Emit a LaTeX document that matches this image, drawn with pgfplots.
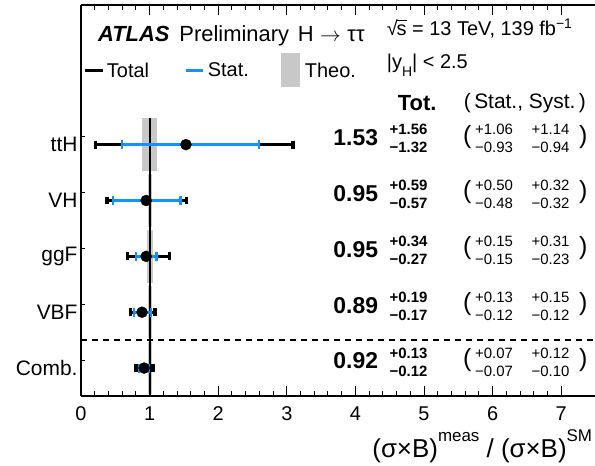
\documentclass[border=0pt]{standalone}
\usepackage{fontspec}
\setmainfont{Liberation Sans}
\usepackage{pgfplots}
\pgfplotsset{compat=1.18}
\definecolor{statblue}{RGB}{20,145,255}
\definecolor{theogray}{RGB}{200,200,200}
\newcommand\fs[1]{\fontsize{#1}{#1}\selectfont}
\newcommand\supt[1]{\raise16bp\hbox{\fs{17}#1}}
\tikzset{lbl/.style={inner sep=0pt, outer sep=0pt}}
% one row of numbers: y, value, tot+, tot-, stat+, stat-, syst+, syst-
\newcommand\rowtext[8]{%
  \node[lbl, anchor=east, font=\fs{23}\bfseries, yshift=7bp] at (axis cs:4.33,#1) {#2};
  \node[lbl, anchor=west, font=\fs{15}\bfseries, yshift=15bp] at (axis cs:4.50,#1) {+#3};
  \node[lbl, anchor=west, font=\fs{15}\bfseries, yshift=-3bp] at (axis cs:4.50,#1) {−#4};
  \node[lbl, font=\fs{25}, yshift=8bp] at (axis cs:5.63,#1) {(};
  \node[lbl, anchor=west, font=\fs{15}, yshift=15bp] at (axis cs:5.745,#1) {+#5};
  \node[lbl, anchor=west, font=\fs{15}, yshift=-3bp] at (axis cs:5.745,#1) {−#6};
  \node[lbl, anchor=west, font=\fs{15}, yshift=15bp] at (axis cs:6.57,#1) {+#7};
  \node[lbl, anchor=west, font=\fs{15}, yshift=-3bp] at (axis cs:6.57,#1) {−#8};
  \node[lbl, font=\fs{25}, yshift=8bp] at (axis cs:7.32,#1) {)};
  \draw[black, line width=1bp, yshift=8bp] (axis cs:0,#1) -- ++(4bp,0bp);
}
\begin{document}
\begin{tikzpicture}
\begin{axis}[
  name=ax,
  scale only axis,
  width=514.5bp, height=391bp,
  xmin=0, xmax=7.5, ymin=0.5, ymax=7.5,
  axis x line*=box, axis y line*=left,
  axis line style={line width=1.3bp},
  clip=false,
  xtick={0,...,7}, minor x tick num=4,
  ytick={1,...,5}, yticklabels={Comb.,VBF,ggF,VH,ttH},
  y tick style={draw=none},
  tick align=inside,
  major tick length=10bp, minor tick length=5bp,
  every tick/.style={black, line width=1bp},
  /pgf/number format/assume math mode=true,
  xticklabel style={font=\fs{20}, yshift=-7bp},
  yticklabel style={font=\fs{21}},
]
% theory bands
\addplot[fill=theogray, draw=none] coordinates {(0.89,4.53) (1.11,4.53) (1.11,5.47) (0.89,5.47)} -- cycle;
\addplot[fill=theogray, draw=none] coordinates {(0.97,3.53) (1.03,3.53) (1.03,4.47) (0.97,4.47)} -- cycle;
\addplot[fill=theogray, draw=none] coordinates {(0.955,2.53) (1.05,2.53) (1.05,3.47) (0.955,3.47)} -- cycle;
\addplot[fill=theogray, draw=none] coordinates {(0.97,1.53) (1.03,1.53) (1.03,2.47) (0.97,2.47)} -- cycle;
\addplot[fill=theogray, draw=none] coordinates {(0.97,0.53) (1.03,0.53) (1.03,1.47) (0.97,1.47)} -- cycle;
% SM line
\addplot[black, line width=2bp] coordinates {(1,0.5) (1,5.47)};
% total
\addplot[only marks, mark=none,
  error bars/.cd, x dir=both, x explicit, error mark=none,
  error bar style={line width=3bp, black}]
coordinates {
  (1.53,5) += (1.56,0) -= (1.32,0)
  (0.95,4) += (0.59,0) -= (0.57,0)
  (0.95,3) += (0.34,0) -= (0.27,0)
  (0.89,2) += (0.19,0) -= (0.17,0)
  (0.92,1) += (0.13,0) -= (0.12,0)
};
% total: end caps
\addplot[only marks, mark=|, mark size=3.9bp, mark options={black, line width=3.3bp}] coordinates {
  (0.21,5) (3.09,5) (0.38,4) (1.54,4) (0.68,3) (1.29,3) (0.72,2) (1.08,2) (0.80,1) (1.05,1)
};
% stat
\addplot[only marks, mark=none,
  error bars/.cd, x dir=both, x explicit, error mark=none,
  error bar style={line width=3bp, statblue}]
coordinates {
  (1.53,5) += (1.06,0) -= (0.93,0)
  (0.95,4) += (0.50,0) -= (0.48,0)
  (0.95,3) += (0.15,0) -= (0.15,0)
  (0.89,2) += (0.13,0) -= (0.12,0)
  (0.92,1) += (0.07,0) -= (0.07,0)
};
% stat: end caps
\addplot[only marks, mark=|, mark size=4.5bp, mark options={statblue, line width=2.3bp}] coordinates {
  (0.60,5) (2.59,5) (0.47,4) (1.45,4) (0.80,3) (1.10,3) (0.77,2) (1.02,2) (0.85,1) (0.99,1)
};
% central values
\addplot[only marks, mark=*, mark size=5.5bp, black] coordinates {
  (1.53,5) (0.95,4) (0.95,3) (0.89,2) (0.92,1)
};

% separator
\draw[black, line width=1.8bp, dash pattern=on 6bp off 5bp] (axis cs:0,1.5) -- (axis cs:7.5,1.5);

% header texts
\node[lbl, anchor=base west, font=\fs{22}] at (axis cs:0.25,6.855)
  {\textbf{\textit{ATLAS}}\hspace{0.45em}Preliminary\hspace{0.4em}H\hspace{0.3em}$\rightarrow$\hspace{0.3em}ττ};
\node[lbl, anchor=base west, font=\fs{20}] at (axis cs:4.46,6.95)
  {√\kern-0.06em\makebox[0pt][l]{\rule[0.74em]{0.52em}{0.07em}}s = 13 TeV, 139 fb\textsuperscript{−1}};
\node[lbl, anchor=base west, font=\fs{20}] at (axis cs:4.46,6.37)
  {|y\raisebox{-0.4em}{\fs{14}H}| < 2.5};

% legend
\draw[black, line width=3bp] (axis cs:0.058,6.336) -- (axis cs:0.32,6.336);
\node[lbl, anchor=west, font=\fs{20}] at (axis cs:0.379,6.336) {Total};
\draw[statblue, line width=3bp] (axis cs:1.53,6.336) -- (axis cs:1.78,6.336);
\node[lbl, anchor=west, font=\fs{20}] at (axis cs:1.85,6.336) {Stat.};
\fill[theogray] (axis cs:2.915,6.03) rectangle (axis cs:3.19,6.64);
\node[lbl, anchor=west, font=\fs{20}] at (axis cs:3.265,6.336) {Theo.};

% column headers
\node[lbl, font=\fs{22}\bfseries] at (axis cs:4.90,5.745) {Tot.};
\node[lbl, font=\fs{21}] at (axis cs:6.47,5.745) {(\,Stat., Syst.\,)};

\rowtext{5}{1.53}{1.56}{1.32}{1.06}{0.93}{1.14}{0.94}
\rowtext{4}{0.95}{0.59}{0.57}{0.50}{0.48}{0.32}{0.32}
\rowtext{3}{0.95}{0.34}{0.27}{0.15}{0.15}{0.31}{0.23}
\rowtext{2}{0.89}{0.19}{0.17}{0.13}{0.12}{0.15}{0.12}
\rowtext{1}{0.92}{0.13}{0.12}{0.07}{0.07}{0.12}{0.10}

% x axis title
\node[lbl, anchor=base east, font=\fs{26}] at (axis cs:7.45,-0.60)
  {(σ×B)\supt{meas} / (σ×B)\supt{SM}};
\end{axis}
\pgfresetboundingbox
\path[use as bounding box] (ax.south west) ++(-81bp,-70bp) rectangle ++(595bp,466bp);
\end{tikzpicture}
\end{document}
